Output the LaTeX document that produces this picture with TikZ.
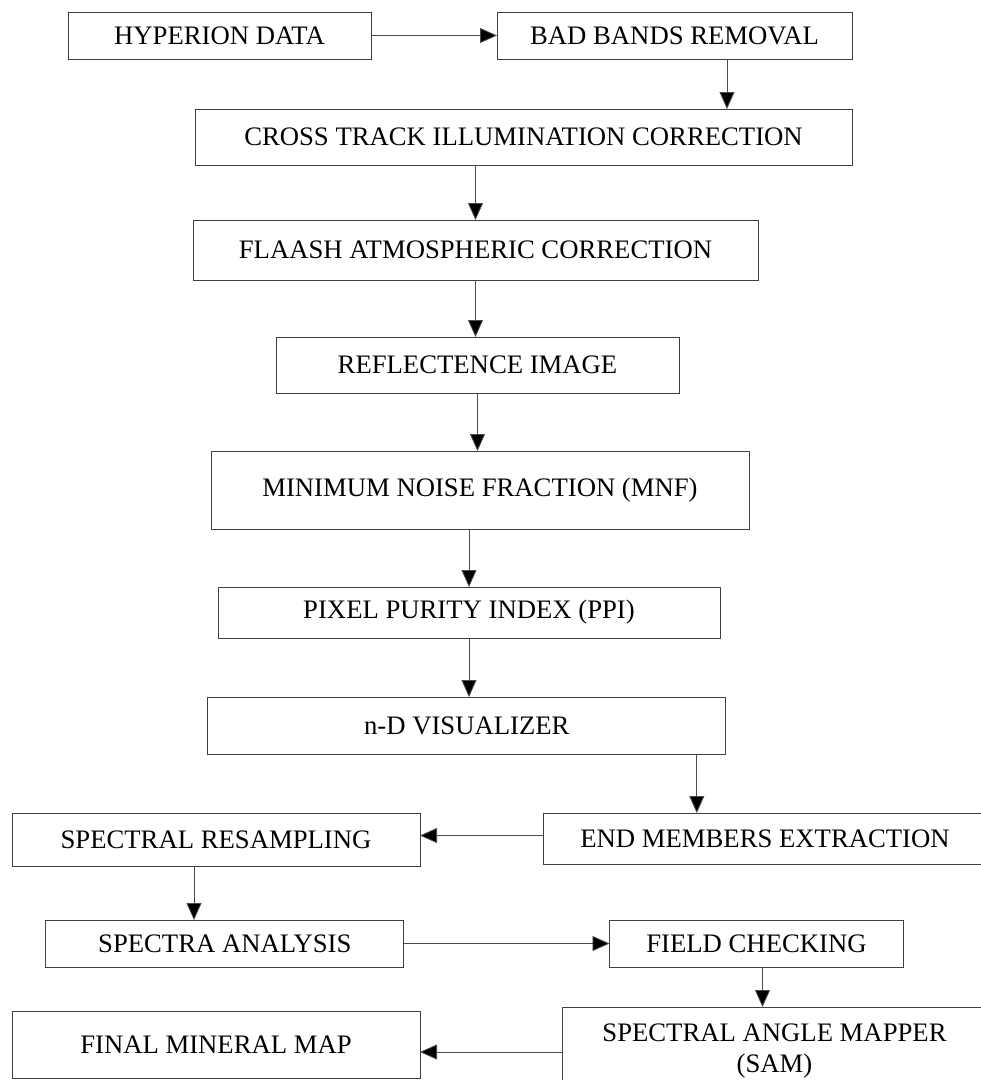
\documentclass[tikz,border=0pt]{standalone}
\usepackage{fontspec}
\setmainfont{Liberation Serif}
\usetikzlibrary{arrows.meta}
\begin{document}
\begin{tikzpicture}[x=1pt,y=-1pt,
  box/.style={draw=black!75, line width=0.9pt, inner sep=0pt, outer sep=0pt,
    font=\fontsize{26.7}{31}\selectfont, align=center},
  arr/.style={draw=black!70, line width=0.8pt, -{Triangle[length=17pt,width=15pt,fill=black]}}]
\useasboundingbox (0,0) rectangle (981,1080);
% Top row
\node[box, minimum width=303, minimum height=47] (hyp) at (219.5,35.5) {HYPERION DATA};
\node[box, minimum width=355, minimum height=47] (bad) at (674.5,35.5) {BAD BANDS REMOVAL};
% Main column
\node[box, minimum width=657, minimum height=56] (cross) at (523.5,137) {CROSS TRACK ILLUMINATION CORRECTION};
\node[box, minimum width=565, minimum height=60] (flaash) at (475.5,250) {FLAASH ATMOSPHERIC CORRECTION};
\node[box, minimum width=403, minimum height=56] (refl) at (477.5,365) {REFLECTENCE IMAGE};
\node[box, minimum width=538, minimum height=78] (mnf) at (480,490) {MINIMUM NOISE FRACTION (MNF)};
\node[box, minimum width=502, minimum height=51] (ppi) at (469,612.5) {PIXEL PURITY INDEX (PPI)};
\node[box, minimum width=518, minimum height=57] (ndv) at (466.8,725.5) {n-D VISUALIZER};
% Lower part
\node[box, minimum width=444, minimum height=51] (endm) at (765,838.5) {END MEMBERS EXTRACTION};
\node[box, minimum width=408, minimum height=53] (resamp) at (216,839.5) {SPECTRAL RESAMPLING};
\node[box, minimum width=358, minimum height=47] (spec) at (224.8,943.5) {SPECTRA ANALYSIS};
\node[box, minimum width=294, minimum height=47] (field) at (756.5,943.5) {FIELD CHECKING};
\node[box, minimum width=425, minimum height=88] (sam) at (774.5,1051) {SPECTRAL ANGLE MAPPER\\(SAM)};
\node[box, minimum width=408, minimum height=67] (final) at (216,1044.5) {FINAL MINERAL MAP};
% Helper points for offset arrows
\coordinate (b1) at ([xshift=52.5]bad.south);
\coordinate (n1) at ([xshift=230]ndv.south);
\coordinate (r1) at ([xshift=-22]resamp.south);
\coordinate (f1) at ([xshift=6]field.south);
\coordinate (s1) at ([yshift=-1]sam.west);
% Arrows
\draw[arr] (hyp.east) -- (bad.west);
\draw[arr] (b1) -- (b1 |- cross.north);
\draw[arr] (cross.south -| flaash.north) -- (flaash.north);
\draw[arr] (flaash.south) -- (flaash.south |- refl.north);
\draw[arr] (refl.south) -- (refl.south |- mnf.north);
\draw[arr] (ppi.north |- mnf.south) -- (ppi.north);
\draw[arr] (ppi.south) -- (ppi.south |- ndv.north);
\draw[arr] (n1) -- (n1 |- endm.north);
\draw[arr] ([yshift=3]endm.west) -- ([yshift=3]endm.west -| resamp.east);
\draw[arr] (r1) -- (r1 |- spec.north);
\draw[arr] (spec.east) -- (field.west);
\draw[arr] (f1) -- (f1 |- sam.north);
\draw[arr] (s1) -- (s1 -| final.east);
\end{tikzpicture}
\end{document}
